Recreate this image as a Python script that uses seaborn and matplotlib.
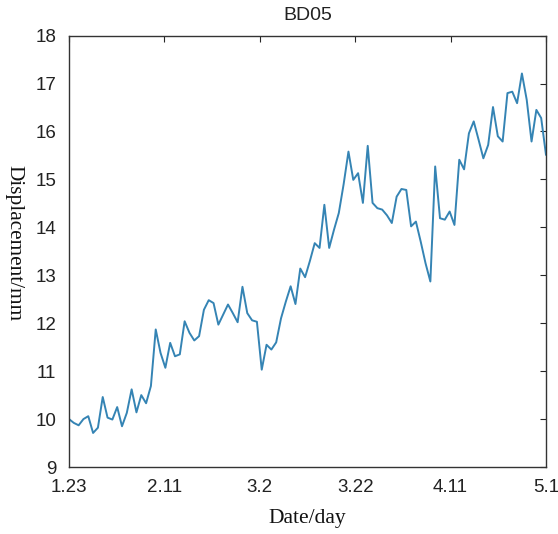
import numpy as np
import pandas as pd
import matplotlib
matplotlib.use("Agg")
import matplotlib.pyplot as plt
import seaborn as sns

# Data (daily displacement, mm)
displacement = [
    10.0, 9.92, 9.87, 10.0, 10.06, 9.71, 9.82, 10.46, 10.03, 9.99,
    10.25, 9.85, 10.13, 10.62, 10.14, 10.5, 10.33, 10.69, 11.87, 11.38,
    11.07, 11.59, 11.31, 11.35, 12.04, 11.8, 11.64, 11.73, 12.28, 12.48,
    12.42, 11.97, 12.18, 12.39, 12.21, 12.02, 12.76, 12.21, 12.06, 12.03,
    11.03, 11.55, 11.45, 11.6, 12.1, 12.45, 12.77, 12.4, 13.14, 12.96,
    13.3, 13.67, 13.57, 14.47, 13.57, 13.95, 14.3, 14.9, 15.58, 14.99,
    15.13, 14.51, 15.7, 14.51, 14.4, 14.37, 14.25, 14.09, 14.64, 14.8,
    14.78, 14.02, 14.12, 13.7, 13.25, 12.87, 15.27, 14.19, 14.16, 14.33,
    14.05, 15.41, 15.21, 15.96, 16.21, 15.83, 15.44, 15.72, 16.51, 15.9,
    15.79, 16.8, 16.83, 16.59, 17.21, 16.66, 15.79, 16.45, 16.28, 15.51,
]
day_index = list(range(len(displacement)))
date_labels = ["1.23", "2.11", "3.2", "3.22", "4.11", "5.1"]
y_ticks = [9, 10, 11, 12, 13, 14, 15, 16, 17, 18]

df = pd.DataFrame({"day": day_index, "disp": displacement})

sns.set_style("white")
plt.rcParams["font.family"] = ["Liberation Sans", "DejaVu Sans"]

fig = plt.figure(figsize=(5.58, 5.34), dpi=100)
ax = fig.add_axes([69 / 558, 1 - 467 / 534, (546 - 69) / 558, (467 - 35.6) / 534])

sns.lineplot(data=df, x="day", y="disp", ax=ax, color="#3584b4", linewidth=1.4)

n = len(displacement) - 1
ax.set_xlim(0, n)
ax.set_ylim(9, 18)
ax.set_xticks(np.linspace(0, n, len(date_labels)))
ax.set_xticklabels(date_labels)
ax.set_yticks(y_ticks)
ax.tick_params(direction="in", length=4, width=0.8, top=True, right=True,
               labelsize=13.5, colors="#262626")
ax.tick_params(axis="x", pad=9)
ax.tick_params(axis="y", pad=9)
for lbl in ax.get_xticklabels() + ax.get_yticklabels():
    lbl.set_color("#222222")
for s in ax.spines.values():
    s.set_visible(True)
    s.set_color("#333333")
    s.set_linewidth(1.0)

ax.set_title("BD05", fontsize=14, color="#222222", pad=11)
ax.set_xlabel("Date/day", fontsize=15.5, family="Liberation Serif", color="#111111")
ax.xaxis.set_label_coords(0.5, -0.098)
ax.set_ylabel("Displacement/mm", fontsize=15.3, family="Liberation Serif", color="#111111",
              rotation=270, va="center", ha="center")
ax.yaxis.set_label_coords(-0.115, 0.52)

fig.savefig("out.png", dpi=100, facecolor="white")
